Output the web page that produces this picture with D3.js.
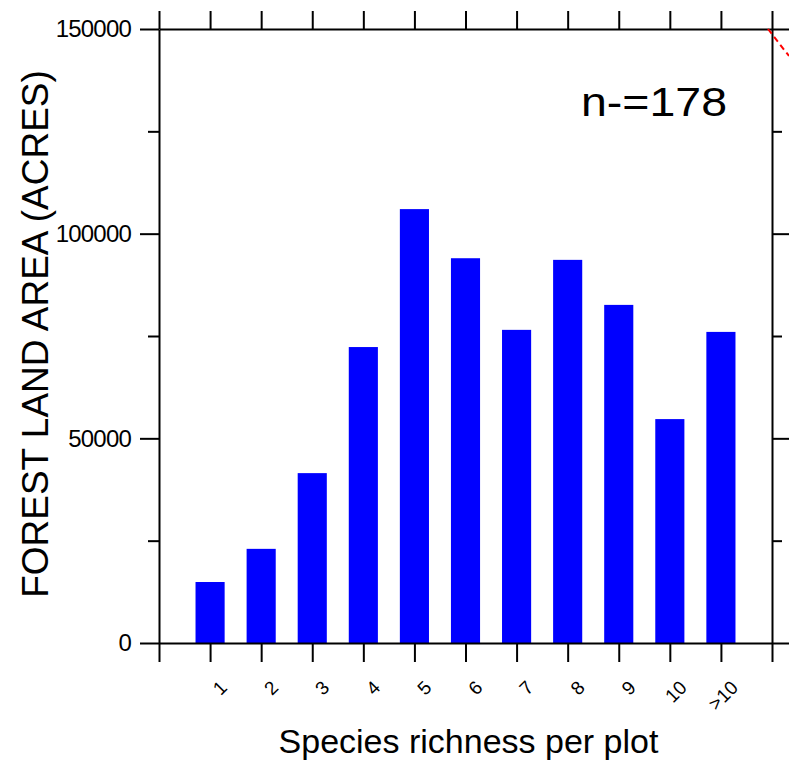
<!DOCTYPE html>
<html>
<head>
<meta charset="utf-8">
<script src="https://cdn.jsdelivr.net/npm/d3@7"></script>
<style>
  body { margin: 0; background: #fff; }
  svg { display: block; font-family: Arial, "Liberation Sans", sans-serif; }
</style>
</head>
<body>
<div id="chart"></div>
<script>
//##### Species richness bar chart #####

// data
var categories = ["1", "2", "3", "4", "5", "6", "7", "8", "9", "10", ">10"];
var areaAcres = [14900, 23000, 41500, 72300, 106000, 94000, 76500, 93600, 82600, 54700, 76000];
var yMajorTicks = [0, 50000, 100000, 150000];
var yMinorTicks = [25000, 75000, 125000];

var width = 789,
  height = 764,
  plotLeft = 159,
  plotRight = 772,
  plotTop = 29,
  plotBottom = 643,
  barFrac = 0.57;

var svg = d3
  .select("#chart")
  .append("svg")
  .attr("width", width)
  .attr("height", height);

// x: categories sit at 1..11 on a 0..12 line
var x = d3.scaleLinear().domain([0, categories.length + 1]).range([plotLeft, plotRight]);
var y = d3.scaleLinear().domain([0, 150000]).range([plotBottom, plotTop]);
var slots = d3.range(0, categories.length + 2);
var barW = x(barFrac) - x(0);

// bars
svg
  .append("g")
  .selectAll("rect")
  .data(areaAcres)
  .enter()
  .append("rect")
  .attr("x", function(d, i) {
    return x(i + 1) - barW / 2;
  })
  .attr("y", function(d) {
    return y(d);
  })
  .attr("width", barW)
  .attr("height", function(d) {
    return y(0) - y(d);
  })
  .attr("fill", "#0000ff");

function styleAxis(g) {
  g.selectAll("path, line")
    .attr("stroke", "#000")
    .attr("stroke-width", 2);
}

// left axis: major + minor ticks, outward
svg
  .append("g")
  .attr("transform", "translate(" + plotLeft + ",0)")
  .call(
    d3.axisLeft(y)
      .tickValues(yMajorTicks)
      .tickSize(19)
      .tickSizeOuter(0)
      .tickPadding(9)
      .tickFormat(d3.format("d"))
  )
  .call(styleAxis)
  .call(function(g) {
    g.selectAll("text")
      .attr("font-size", 24)
      .attr("letter-spacing", "-0.8px")
      .attr("fill", "#000")
      .attr("font-family", "Arial, 'Liberation Sans', sans-serif");
  });
svg
  .append("g")
  .attr("transform", "translate(" + plotLeft + ",0)")
  .call(d3.axisLeft(y).tickValues(yMinorTicks).tickSize(11).tickSizeOuter(0).tickFormat(""))
  .call(styleAxis)
  .call(function(g) { g.select(".domain").remove(); });

// right axis: ticks pointing out
svg
  .append("g")
  .attr("transform", "translate(" + plotRight + ",0)")
  .call(d3.axisRight(y).tickValues(yMajorTicks).tickSize(19).tickSizeOuter(0).tickFormat(""))
  .call(styleAxis);
svg
  .append("g")
  .attr("transform", "translate(" + plotRight + ",0)")
  .call(d3.axisRight(y).tickValues(yMinorTicks).tickSize(10).tickSizeOuter(0).tickFormat(""))
  .call(styleAxis)
  .call(function(g) { g.select(".domain").remove(); });

// top axis
svg
  .append("g")
  .attr("transform", "translate(0," + plotTop + ")")
  .call(d3.axisTop(x).tickValues(slots).tickSize(18).tickSizeOuter(0).tickFormat(""))
  .call(styleAxis);

// bottom axis with rotated category labels
var xAxis = svg
  .append("g")
  .attr("transform", "translate(0," + plotBottom + ")")
  .call(
    d3.axisBottom(x)
      .tickValues(slots)
      .tickSize(19)
      .tickSizeOuter(0)
      .tickFormat(function(d) {
        return d >= 1 && d <= categories.length ? categories[d - 1] : "";
      })
  )
  .call(styleAxis);
xAxis
  .selectAll("text")
  .attr("font-size", 19)
  .attr("fill", "#000")
  .attr("font-family", "Arial, 'Liberation Sans', sans-serif")
  .attr("text-anchor", "end")
  .attr("dy", "0.35em")
  .attr("y", 0)
  .attr("transform", "translate(13,41) rotate(-45)");

// stray red dashed line at the top right corner
svg
  .append("line")
  .attr("x1", x(categories.length + 1) - 4)
  .attr("y1", y(150000))
  .attr("x2", width)
  .attr("y2", y(150000) + 27)
  .attr("stroke", "#ff0000")
  .attr("stroke-width", 2)
  .attr("stroke-dasharray", "6,4");

// axis titles
svg
  .append("text")
  .attr("x", (plotLeft + plotRight) / 2 + 3)
  .attr("y", 753)
  .attr("text-anchor", "middle")
  .attr("font-size", 34)
  .attr("fill", "#000")
  .text("Species richness per plot");

svg
  .append("text")
  .attr("transform", "translate(48," + ((plotTop + plotBottom) / 2 - 2) + ") rotate(-90)")
  .attr("text-anchor", "middle")
  .attr("font-size", 37)
  .attr("fill", "#000")
  .text("FOREST LAND AREA (ACRES)");

// sample size note
svg
  .append("text")
  .attr("x", 581)
  .attr("y", 116)
  .attr("font-size", 41)
  .attr("textLength", 146)
  .attr("lengthAdjust", "spacingAndGlyphs")
  .attr("fill", "#000")
  .text("n-=178");
</script>
</body>
</html>
